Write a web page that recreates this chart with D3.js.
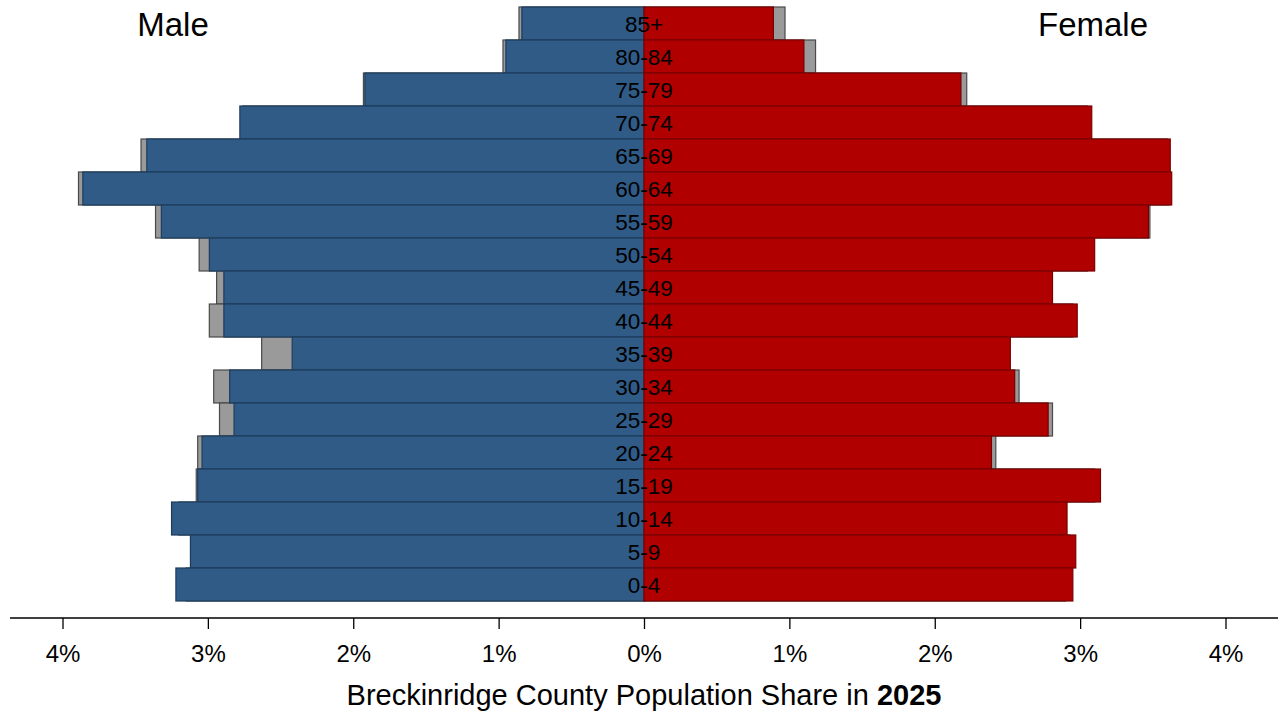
<!DOCTYPE html>
<html>
<head>
<meta charset="utf-8">
<script src="https://cdn.jsdelivr.net/npm/d3@7"></script>
<style>
  html, body { margin: 0; padding: 0; background: #fff; }
  svg { display: block; font-family: "Liberation Sans", Arial, sans-serif; }
</style>
</head>
<body>
<svg id="chart" width="1281" height="715"></svg>
<script>
// Age groups, top to bottom
const ageGroups = ["85+","80-84","75-79","70-74","65-69","60-64","55-59","50-54","45-49","40-44","35-39","30-34","25-29","20-24","15-19","10-14","5-9","0-4"];
// 2025 shares (%)
const male2025   = [0.84,0.95,1.92,2.78,3.42,3.86,3.32,2.99,2.89,2.89,2.42,2.85,2.82,3.04,3.07,3.25,3.12,3.22];
const female2025 = [0.89,1.10,2.18,3.08,3.62,3.63,3.47,3.10,2.81,2.98,2.52,2.55,2.78,2.39,3.14,2.91,2.97,2.95];
// comparison shares (%), grey bars behind
const maleComp   = [0.86,0.97,1.93,2.76,3.46,3.89,3.36,3.06,2.94,2.99,2.63,2.96,2.92,3.07,3.08,3.20,3.08,3.15];
const femaleComp = [0.97,1.18,2.22,3.05,3.60,3.61,3.48,3.05,2.78,2.95,2.50,2.58,2.81,2.42,3.10,2.88,2.93,2.90];
const tickValues = [-4,-3,-2,-1,0,1,2,3,4];

const svg = d3.select("#chart");
const x = d3.scaleLinear().domain([-4, 4]).range([62.5, 1225.5]);
const y = d3.scaleBand().domain(ageGroups).range([7, 601]).padding(0);

const g = svg.append("g");

function bars(data, sign, fill, stroke) {
  g.selectAll(null).data(data).enter().append("rect")
    .attr("x", (d) => sign < 0 ? x(-d) : x(0))
    .attr("width", (d) => Math.abs(x(d) - x(0)))
    .attr("y", (d, i) => y(ageGroups[i]))
    .attr("height", y.bandwidth())
    .attr("fill", fill)
    .attr("stroke", stroke)
    .attr("stroke-width", 1.2);
}
bars(maleComp, -1, "#9a9a9a", "#4a4a4a");
bars(femaleComp, 1, "#9a9a9a", "#4a4a4a");
bars(male2025, -1, "#2f5b86", "#1e3d5c");
bars(female2025, 1, "#b00000", "#7a0000");

// age labels
g.selectAll(null).data(ageGroups).enter().append("text")
  .attr("x", x(0))
  .attr("y", (d) => y(d) + y.bandwidth() / 2)
  .attr("dy", "0.36em")
  .attr("text-anchor", "middle")
  .attr("font-size", 22.5)
  .attr("fill", "#000")
  .text((d) => d);

// axis
const axis = d3.axisBottom(x).tickValues(tickValues)
  .tickFormat((d) => Math.abs(d) + "%").tickSize(11).tickPadding(16);
const ax = svg.append("g").attr("transform", "translate(0,618)").call(axis);
ax.select(".domain").attr("d", "M10,0H1278").attr("stroke", "#000").attr("stroke-width", 1.3);
ax.selectAll(".tick line").attr("stroke", "#000").attr("stroke-width", 1.3);
ax.selectAll(".tick text").attr("font-size", 24).attr("fill", "#000")
  .attr("font-family", "Liberation Sans, Arial, sans-serif");

// sex labels
svg.append("text").attr("x", 173).attr("y", 36).attr("text-anchor", "middle")
  .attr("font-size", 33).attr("fill", "#000").text("Male");
svg.append("text").attr("x", 1093).attr("y", 36).attr("text-anchor", "middle")
  .attr("font-size", 33).attr("fill", "#000").text("Female");

// title
const t = svg.append("text").attr("x", 644).attr("y", 705).attr("text-anchor", "middle")
  .attr("font-size", 29).attr("fill", "#000");
t.append("tspan").text("Breckinridge County Population Share in ");
t.append("tspan").attr("font-weight", "bold").text("2025");
</script>
</body>
</html>
